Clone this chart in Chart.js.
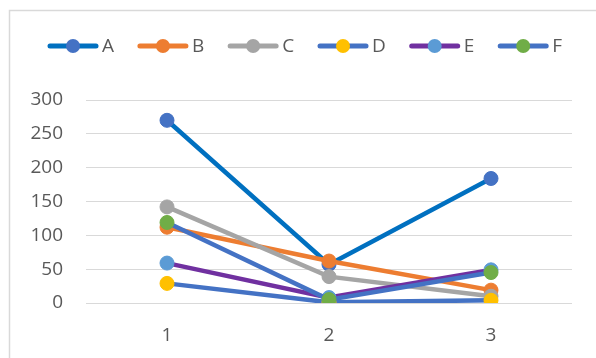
<!DOCTYPE html>
<html>
<head>
<meta charset="utf-8">
<script src="https://cdn.jsdelivr.net/npm/chart.js@4/dist/chart.umd.min.js"></script>
<style>
  html, body { margin: 0; padding: 0; background: #fff; }
  #wrap { width: 596px; height: 358px; position: relative; }
</style>
</head>
<body>
<div id="wrap"><canvas id="c" width="596" height="358"></canvas></div>
<script>
// ---- data ----
const categories = ['1', '2', '3'];
const seriesNames = ['A', 'B', 'C', 'D', 'E', 'F'];
const seriesA = [270, 57, 184];
const seriesB = [112, 62, 19];
const seriesC = [142, 39, 10];
const seriesD = [29, 1, 4];
const seriesE = [59, 8, 49];
const seriesF = [119, 5, 45];
const yTicks = [0, 50, 100, 150, 200, 250, 300];

// ---- styles ----
const lineColors   = ['#0070C0', '#ED7D31', '#A5A5A5', '#4472C4', '#7030A0', '#4472C4'];
const markerColors = ['#4472C4', '#ED7D31', '#A5A5A5', '#FFC000', '#5B9BD5', '#70AD47'];
const allSeries = [seriesA, seriesB, seriesC, seriesD, seriesE, seriesF];
const FONT = "'Open Sans', 'Liberation Sans', sans-serif";
const TEXT = '#595959';

const datasets = allSeries.map((vals, i) => ({
  label: seriesNames[i],
  data: vals,
  borderColor: lineColors[i],
  backgroundColor: markerColors[i],
  pointBackgroundColor: markerColors[i],
  pointBorderColor: markerColors[i],
  pointBorderWidth: 1,
  pointRadius: 7,
  pointHoverRadius: 7,
  borderWidth: 4.5,
  tension: 0,
  fill: false,
  order: allSeries.length - i
}));

const frame = {
  id: 'frame',
  beforeDraw(chart) {
    const ctx = chart.ctx;
    ctx.save();
    ctx.fillStyle = '#fff';
    ctx.fillRect(0, 0, chart.width, chart.height);
    ctx.strokeStyle = '#d9d9d9';
    ctx.lineWidth = 1.5;
    ctx.beginPath();
    ctx.moveTo(9.5, chart.height);
    ctx.lineTo(9.5, 10.5);
    ctx.lineTo(chart.width, 10.5);
    ctx.stroke();
    ctx.restore();
  }
};

const customLegend = {
  id: 'customLegend',
  afterDraw(chart) {
    const ctx = chart.ctx;
    ctx.save();
    ctx.font = '19px ' + FONT;
    const segW = 50, gapText = 4, cy = 46, left = 48, right = 562;
    const items = chart.data.datasets.map((d, i) => ({
      label: d.label, line: lineColors[i], mark: markerColors[i],
      tw: ctx.measureText(d.label).width
    }));
    const used = items.reduce((s, it) => s + segW + gapText + it.tw, 0);
    const gapItem = (right - left - used) / (items.length - 1);
    let x = left;
    items.forEach(it => {
      ctx.strokeStyle = it.line;
      ctx.lineWidth = 5;
      ctx.lineCap = 'round';
      ctx.beginPath();
      ctx.moveTo(x + 2, cy);
      ctx.lineTo(x + segW - 2, cy);
      ctx.stroke();
      ctx.fillStyle = it.mark;
      ctx.beginPath();
      ctx.arc(x + segW / 2, cy, 7, 0, Math.PI * 2);
      ctx.fill();
      ctx.fillStyle = TEXT;
      ctx.textBaseline = 'middle';
      ctx.textAlign = 'left';
      ctx.fillText(it.label, x + segW + gapText, cy + 1);
      x += segW + gapText + it.tw + gapItem;
    });
    ctx.restore();
  }
};

new Chart(document.getElementById('c'), {
  type: 'line',
  data: { labels: categories, datasets },
  plugins: [frame, customLegend],
  options: {
    responsive: false,
    animation: false,
    events: [],
    layout: { padding: { top: 100, right: 24, left: 0, bottom: 0 } },
    plugins: { legend: { display: false }, tooltip: { enabled: false } },
    scales: {
      x: {
        offset: true,
        grid: { display: false, drawTicks: false },
        border: { display: false },
        ticks: { color: TEXT, font: { family: FONT, size: 19 }, padding: 21 },
        afterFit(s) { s.height = 55; }
      },
      y: {
        min: 0, max: 300,
        afterBuildTicks(s) { s.ticks = yTicks.map(v => ({ value: v })); },
        grid: { color: '#d9d9d9', lineWidth: 1, drawTicks: false },
        border: { display: false },
        ticks: { color: TEXT, font: { family: FONT, size: 19 }, padding: 23 },
        afterFit(s) { s.width = 86; }
      }
    }
  }
});
</script>
</body>
</html>
